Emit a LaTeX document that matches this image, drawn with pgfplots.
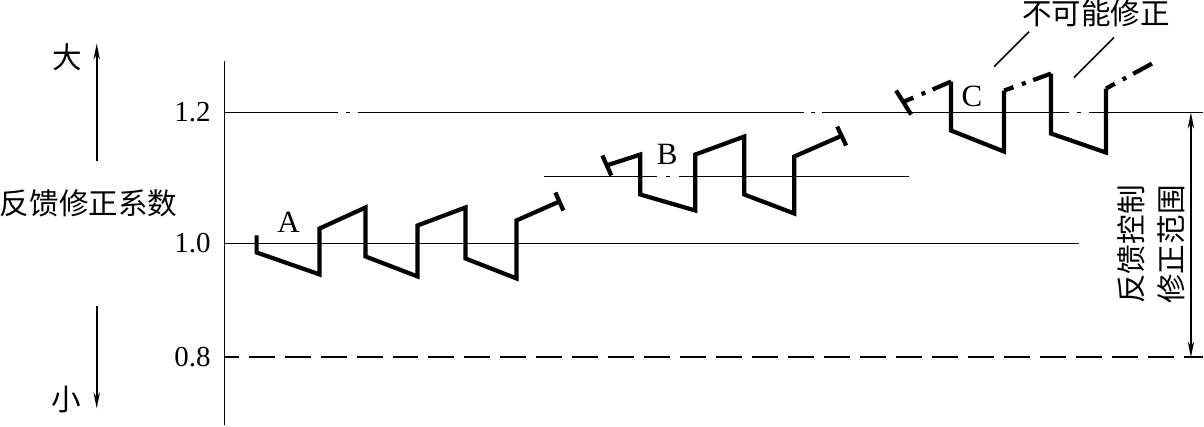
\documentclass[border=0pt]{standalone}
\usepackage{fontspec}
\setmainfont{Liberation Serif}
\newfontfamily\cjk{Noto Sans CJK SC}
\usepackage{pgfplots}
\pgfplotsset{compat=1.18}
\usetikzlibrary{arrows.meta}
\tikzset{
  thinl/.style={black, line width=0.8pt},
  thickl/.style={black, line width=2.1pt, line join=miter},
  ddot/.style={black, line width=2.1pt, dash pattern=on 5pt off 4.5pt on 2pt off 4pt on 30pt},
  arr/.style={black, line width=0.8pt, -{Stealth[length=8pt,width=3.2pt]}},
  cjkl/.style={font=\cjk\fontsize{14.8}{16}\selectfont, inner sep=0pt},
}
\begin{document}
\begin{tikzpicture}
\begin{axis}[
  scale only axis, width=489.5pt, height=182.5pt,
  xmin=225, xmax=1204, ymin=-427, ymax=-62,
  axis x line=none, axis y line=left,
  axis line style={-, line width=0.8pt},
  ytick={-359,-245,-114}, yticklabels={0.8,1.0,1.2},
  major tick length=0pt,
  yticklabel style={font=\fontsize{14.5}{16}\selectfont, xshift=-3.5pt},
  /pgf/number format/assume math mode=true,
  clip=false,
]
% reference lines
\addplot[thinl] coordinates {(225,-114)(338,-114)};
\addplot[thinl] coordinates {(346,-114)(350,-114)};
\addplot[thinl] coordinates {(358,-114)(805,-114)};
\addplot[thinl] coordinates {(812,-114)(816,-114)};
\addplot[thinl] coordinates {(823,-114)(1070,-114)};
\addplot[thinl] coordinates {(1078,-114)(1082,-114)};
\addplot[thinl] coordinates {(1090,-114)(1204,-114)};
\addplot[thinl] coordinates {(545,-178)(658,-178)};
\addplot[thinl] coordinates {(667,-178)(671,-178)};
\addplot[thinl] coordinates {(680,-178)(910,-178)};
\addplot[thinl] coordinates {(225,-245)(1080,-245)};
\addplot[black, line width=1.1pt, dash pattern=on 13pt off 5pt, dash phase=6pt] coordinates {(225,-359)(1204,-359)};
% path A
\addplot[thickl] coordinates {(257,-237)(257,-254)(320,-276)(320,-230)(366,-209)(366,-258)(418,-278)(418,-227)(466,-209)(466,-260)(517,-280)(517,-222)(560,-203)};
\addplot[thickl] coordinates {(556,-194)(564,-212)};
% path B
\addplot[thickl] coordinates {(603,-157)(612,-177)};
\addplot[thickl] coordinates {(607,-167)(641,-156)(641,-196)(696,-212)(696,-156)(745,-138)(745,-196)(795,-215)(795,-158)(843,-137)};
\addplot[thickl] coordinates {(838,-128)(847,-147)};
% path C
\addplot[thickl] coordinates {(897,-92)(912,-116)};
\addplot[ddot] coordinates {(905,-103)(952,-83)};
\addplot[thickl] coordinates {(952,-83)(952,-132)(1005,-153)(1005,-92)};
\addplot[ddot] coordinates {(1005,-92)(1052,-75)};
\addplot[thickl] coordinates {(1052,-75)(1052,-135)(1107,-154)(1107,-90)};
\addplot[ddot] coordinates {(1107,-90)(1153,-65)};
% leader lines
\addplot[thinl] coordinates {(995,-68)(1030,-33)};
\addplot[thinl] coordinates {(1075,-79)(1115,-39)};
% arrows
\addplot[arr] coordinates {(97,-162)(97,-45)};
\addplot[arr] coordinates {(97,-308)(97,-410)};
\addplot[black, line width=0.8pt, {Stealth[length=8pt,width=3.2pt]}-{Stealth[length=8pt,width=3.2pt]}] coordinates {(1192,-114)(1192,-359)};
% labels
\node[font=\fontsize{15.5}{17}\selectfont] at (axis cs:289,-224) {A};
\node[font=\fontsize{15.5}{17}\selectfont] at (axis cs:668,-156) {B};
\node[font=\fontsize{15.5}{17}\selectfont] at (axis cs:973,-98) {C};
\node[cjkl] at (axis cs:89,-205) {反馈修正系数};
\node[cjkl] at (axis cs:68,-59) {大};
\node[cjkl] at (axis cs:67,-401) {小};
\node[cjkl] at (axis cs:1097,-15) {不可能修正};
\node[cjkl, rotate=90] at (axis cs:1132,-246) {反馈控制};
\node[cjkl, rotate=90] at (axis cs:1172,-246) {修正范围};
\end{axis}
\end{tikzpicture}
\end{document}
